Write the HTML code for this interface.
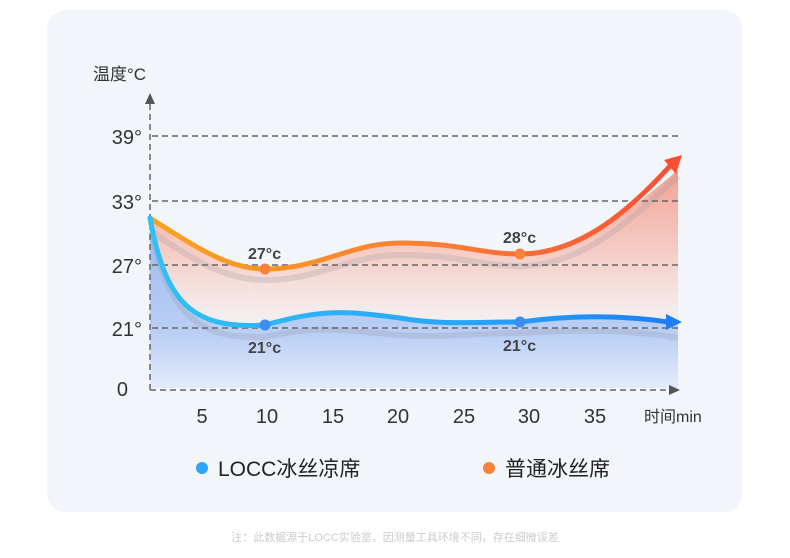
<!DOCTYPE html>
<html><head><meta charset="utf-8"><style>
html,body{margin:0;padding:0;background:#fff;width:790px;height:558px;overflow:hidden}
svg text{font-family:"Liberation Sans","Noto Sans CJK SC",sans-serif}
</style></head><body>
<svg width="790" height="558" viewBox="0 0 790 558" xmlns="http://www.w3.org/2000/svg">
<defs>
<linearGradient id="rg" x1="0" y1="0" x2="0" y2="1">
<stop offset="0" stop-color="#f39a8c" stop-opacity="0.95"/>
<stop offset="0.6" stop-color="#f6c3b8" stop-opacity="0.7"/>
<stop offset="1" stop-color="#f8e4e0" stop-opacity="0.3"/>
</linearGradient>
<linearGradient id="bg" x1="0" y1="0" x2="0" y2="1">
<stop offset="0" stop-color="#9ab8f0"/>
<stop offset="0.7" stop-color="#bcd0f5"/>
<stop offset="1" stop-color="#e4ecfa"/>
</linearGradient>
<linearGradient id="ol" x1="0" y1="0" x2="1" y2="0">
<stop offset="0" stop-color="#f7a421"/>
<stop offset="0.6" stop-color="#fb7a35"/>
<stop offset="1" stop-color="#fb4f33"/>
</linearGradient>
<linearGradient id="bl" x1="0" y1="0" x2="1" y2="0">
<stop offset="0" stop-color="#2fc1f5"/>
<stop offset="0.6" stop-color="#27a6f6"/>
<stop offset="1" stop-color="#1f7ef5"/>
</linearGradient>
</defs>
<rect x="47" y="10" width="695" height="502" rx="18" fill="#f2f5f9"/>
<path d="M150,218 C200,250 230,269 265,269 C320,269 350,243 400,243 C460,243 480,254 520,254 C580,254 630,210 678,170 L678,322 C620,312 570,322 520,322 C470,322 440,328 400,325 C340,320 320,310 265,325 C190,330 165,300 150,218 Z" fill="url(#rg)"/>
<path d="M150,218 C165,300 190,330 265,325 C320,310 340,310 400,318 C440,325 470,322 520,322 C570,315 620,315 678,322 L678,388 L150,388 Z" fill="url(#bg)"/>
<path d="M152,232 C200,265 230,280 265,280 C320,280 350,255 400,255 C460,255 480,266 520,266 C580,266 630,222 678,176" fill="none" stroke="#a9a0a6" stroke-opacity="0.3" stroke-width="6"/>
<path d="M152,232 C168,315 200,340 265,337 C320,325 340,330 400,335 C440,338 470,333 520,333 C570,330 620,328 678,338" fill="none" stroke="#9aa0ae" stroke-opacity="0.3" stroke-width="6"/>
<g stroke="#666" stroke-width="1.5" stroke-dasharray="6,4" fill="none">
<line x1="152" y1="136" x2="678" y2="136"/>
<line x1="152" y1="201" x2="678" y2="201"/>
<line x1="152" y1="265" x2="678" y2="265"/>
<line x1="152" y1="328" x2="678" y2="328"/>
<line x1="150" y1="104" x2="150" y2="390"/>
<line x1="150" y1="390" x2="672" y2="390"/>
</g>
<polygon points="150,93 145,104 155,104" fill="#555"/>
<polygon points="680,390 669,385 669,395" fill="#555"/>
<path d="M150,218 C200,250 230,269 265,269 C320,269 350,243 400,243 C460,243 480,254 520,254 C580,254 630,210 670,166" fill="none" stroke="url(#ol)" stroke-width="5" stroke-linecap="round"/>
<polygon points="682,155 664,160 676,174" fill="#fb4f33"/>
<path d="M150,218 C165,300 190,330 265,325 C320,310 340,310 400,318 C440,325 470,322 520,322 C570,315 620,315 668,322" fill="none" stroke="url(#bl)" stroke-width="5" stroke-linecap="round"/>
<polygon points="682,322 666,314 666,330" fill="#1f7ef5"/>
<circle cx="265" cy="269" r="5.5" fill="#f8823a"/>
<circle cx="520" cy="254" r="5.5" fill="#f8823a"/>
<circle cx="265" cy="325" r="5.5" fill="#3a8ef0"/>
<circle cx="520" cy="322" r="5.5" fill="#3a8ef0"/>
<g fill="#444" font-size="16" font-weight="bold">
<text x="248" y="259">27°c</text>
<text x="503" y="243">28°c</text>
<text x="248" y="353">21°c</text>
<text x="503" y="351">21°c</text>
</g>
<g fill="#333" font-size="20" text-anchor="end">
<text x="142" y="144">39°</text>
<text x="142" y="209">33°</text>
<text x="142" y="273">27°</text>
<text x="142" y="336">21°</text>
<text x="128" y="396">0</text>
</g>
<text x="93" y="80" font-size="17" fill="#333">温度°C</text>
<g fill="#333" font-size="20" text-anchor="middle">
<text x="202" y="423">5</text>
<text x="267" y="423">10</text>
<text x="333" y="423">15</text>
<text x="398" y="423">20</text>
<text x="464" y="423">25</text>
<text x="529" y="423">30</text>
<text x="595" y="423">35</text>
</g>
<text x="644" y="422" font-size="16" fill="#333">时间min</text>
<circle cx="202" cy="468" r="6" fill="#2ea6f5"/>
<text x="218" y="476" font-size="21" fill="#222">LOCC冰丝凉席</text>
<circle cx="489" cy="468" r="6" fill="#f8823a"/>
<text x="505" y="476" font-size="21" fill="#222">普通冰丝席</text>
<text x="395" y="541" font-size="11" fill="#ccc" text-anchor="middle">注：此数据源于LOCC实验室，因测量工具环境不同，存在细微误差</text>
</svg>
</body></html>
